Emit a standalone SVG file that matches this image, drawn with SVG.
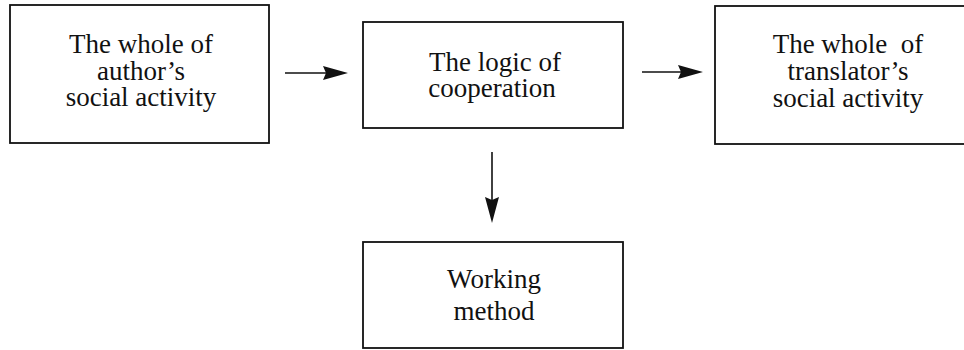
<svg xmlns="http://www.w3.org/2000/svg" width="964" height="350" viewBox="0 0 964 350">
<style>
.box{fill:#fff;stroke:#111;stroke-width:1.8}
.t{font-family:"Liberation Serif","Times New Roman",serif;font-size:27px;fill:#111;text-anchor:middle}
.c{stroke:#111;stroke-width:1.6;fill:none}
.h{fill:#111;stroke:none}
</style>
<rect width="964" height="350" fill="#fff"/>
<g id="n1">
<rect class="box" x="10" y="5" width="259" height="138"/>
<text class="t" x="141" y="53">The whole of</text>
<text class="t" x="141" y="80">author’s</text>
<text class="t" x="141" y="106">social activity</text>
</g>
<g id="n2">
<rect class="box" x="363" y="22" width="260" height="106"/>
<text class="t" x="495" y="71">The logic of</text>
<text class="t" x="492" y="97">cooperation</text>
</g>
<g id="n3">
<rect class="box" x="715" y="6" width="270" height="138"/>
<text class="t" x="848" y="53" xml:space="preserve">The whole  of</text>
<text class="t" x="848" y="80">translator’s</text>
<text class="t" x="848" y="107">social activity</text>
</g>
<g id="n4">
<rect class="box" x="363" y="242" width="260" height="106"/>
<text class="t" x="494" y="288">Working</text>
<text class="t" x="494" y="320">method</text>
</g>
<g id="connectors">
<line class="c" x1="285" y1="73" x2="326" y2="73"/>
<polygon class="h" points="348,73 323,66 326,73 323,80"/>
<line class="c" x1="642" y1="72" x2="682" y2="72"/>
<polygon class="h" points="703,72 678,65 681,72 678,79"/>
<line class="c" x1="492" y1="152" x2="492" y2="200"/>
<polygon class="h" points="492,223 485,197 492,200 499,197"/>
</g>
</svg>
